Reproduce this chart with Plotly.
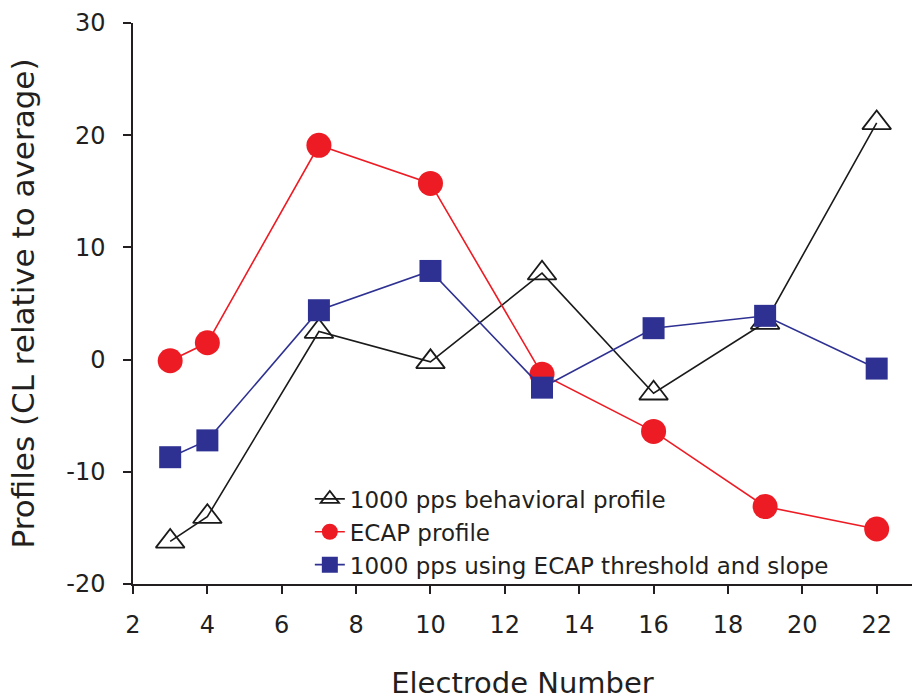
import plotly.graph_objects as go

electrodes = [3, 4, 7, 10, 13, 16, 19, 22]
behavioral = [-16.2, -14.0, 2.5, -0.2, 7.7, -3.0, 3.3, 21.1]
ecap = [-0.1, 1.5, 19.1, 15.7, -1.3, -6.4, -13.1, -15.1]
ecap_model = [-8.7, -7.2, 4.4, 7.9, -2.5, 2.8, 3.9, -0.8]

names = ["1000 pps behavioral profile", "ECAP profile",
         "1000 pps using ECAP threshold and slope"]

x_ticks = [2, 4, 6, 8, 10, 12, 14, 16, 18, 20, 22]
y_ticks = [-20, -10, 0, 10, 20, 30]
y_tick_labels = ["-20", "-10", "0", "10", "20", "30"]

FONT = "DejaVu Sans, Liberation Sans, Arial, sans-serif"
INK = "#231F20"

fig = go.Figure()
fig.add_trace(go.Scatter(
    x=electrodes, y=behavioral, name=names[0], mode="lines+markers",
    line=dict(color="#1a1a1a", width=1.6),
    marker=dict(symbol="triangle-up-open", size=25, color="#1a1a1a",
                line=dict(width=1.8, color="#1a1a1a")),
))
fig.add_trace(go.Scatter(
    x=electrodes, y=ecap, name=names[1], mode="lines+markers",
    line=dict(color="#ED1C24", width=1.6),
    marker=dict(symbol="circle", size=25, color="#ED1C24", line=dict(width=0)),
))
fig.add_trace(go.Scatter(
    x=electrodes, y=ecap_model, name=names[2], mode="lines+markers",
    line=dict(color="#2E3192", width=1.6),
    marker=dict(symbol="square", size=22, color="#2E3192", line=dict(width=0)),
))

fig.update_layout(
    width=912, height=700,
    margin=dict(l=133, r=0, t=23, b=116),
    paper_bgcolor="white", plot_bgcolor="white",
    font=dict(family=FONT, color=INK),
    showlegend=True,
    legend=dict(
        x=0.227, y=0.19, xanchor="left", yanchor="top",
        bgcolor="rgba(0,0,0,0)", font=dict(size=23, family=FONT, color=INK),
        itemsizing="trace", tracegroupgap=0,
    ),
    xaxis=dict(
        range=[2, 22.95], tickmode="array", tickvals=x_ticks,
        ticks="outside", ticklen=8, tickwidth=1.5, tickcolor=INK,
        showline=True, linecolor=INK, linewidth=1.5,
        showgrid=False, zeroline=False,
        tickfont=dict(size=24), ticklabelstandoff=10,
        title=dict(text="Electrode Number", font=dict(size=29), standoff=40),
    ),
    yaxis=dict(
        range=[-20, 30], tickmode="array", tickvals=y_ticks, ticktext=y_tick_labels,
        ticks="outside", ticklen=8, tickwidth=1.5, tickcolor=INK,
        showline=True, linecolor=INK, linewidth=1.5,
        showgrid=False, zeroline=False,
        tickfont=dict(size=24), ticklabelstandoff=13,
        title=dict(text="Profiles (CL relative to average)", font=dict(size=31), standoff=22),
    ),
)

fig.write_html("out.html")
